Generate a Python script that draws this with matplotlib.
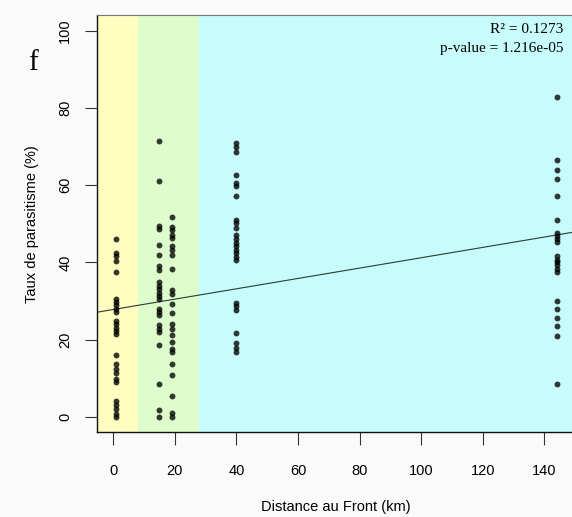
import matplotlib
matplotlib.use('Agg')
import matplotlib.pyplot as plt

# distances (km) of each sampling site, and parasitism rates (%) read per site
site_km = [1, 15, 19, 40, 144]
rates_1 = [46.1, 42.5, 41.6, 40.3, 37.5, 30.4, 29.7, 28.9, 28.0, 27.1, 24.8, 24.0,
           23.1, 22.2, 21.4, 15.9, 13.6, 12.5, 11.3, 9.9, 9.1, 4.1, 3.0, 2.0, 0.7, 0.0]
rates_15 = [71.3, 61.2, 49.5, 48.7, 44.4, 42.0, 39.0, 38.0, 34.9, 34.0, 33.0, 32.1,
            31.3, 30.4, 28.0, 27.1, 26.3, 23.7, 22.8, 22.0, 18.5, 8.4, 1.8, 0.0]
rates_19 = [51.8, 49.2, 48.3, 47.2, 46.2, 44.2, 43.2, 41.8, 38.2, 32.8, 31.7, 29.1,
            27.0, 24.0, 22.8, 21.1, 19.4, 17.5, 16.8, 13.8, 10.8, 5.3, 1.0, 0.0]
rates_40 = [70.9, 70.0, 68.7, 62.7, 60.6, 59.7, 57.3, 51.1, 50.1, 48.9, 47.0, 46.1,
            45.1, 44.2, 43.3, 42.5, 41.4, 40.6, 29.6, 28.7, 27.6, 21.8, 19.2, 17.9, 16.8]
rates_144 = [82.8, 66.4, 63.8, 61.6, 57.3, 51.1, 47.5, 46.8, 46.1, 45.2, 41.6, 40.7,
             40.1, 39.2, 38.3, 37.5, 30.0, 28.0, 25.5, 23.5, 21.0, 8.4]
site_rates = [rates_1, rates_15, rates_19, rates_40, rates_144]

# zone limits (km) for the coloured background bands
zone_edges = [8, 28]
zone_colors = ['#FFFDC0', '#DEFDCC', '#C8FCFC']

# linear fit shown on the plot
fit_intercept = 27.8
fit_slope = 0.134
r2_text = 'R² = 0.1273'
p_text = 'p-value = 1.216e-05'

fig = plt.figure(figsize=(5.72, 5.17), dpi=100, facecolor='#fafafa')
ax = fig.add_axes([0.170, 0.1638, 0.8355, 0.8068])

ax.set_xlim(-5.2, 150)
ax.set_ylim(-4, 104)

ax.axvspan(-50, zone_edges[0], color=zone_colors[0], lw=0, zorder=0)
ax.axvspan(zone_edges[0], zone_edges[1], color=zone_colors[1], lw=0, zorder=0)
ax.axvspan(zone_edges[1], 300, color=zone_colors[2], lw=0, zorder=0)

for km, rates in zip(site_km, site_rates):
    ax.scatter([km] * len(rates), rates, s=18, color='black', alpha=0.78,
               linewidths=0, zorder=3)

ax.axline((0, fit_intercept), slope=fit_slope, color='#2a3a3a', lw=0.8, zorder=2)

ax.text(0.975, 0.965, r2_text, transform=ax.transAxes, ha='right', va='center',
        family='Liberation Serif', fontsize=11)
ax.text(0.975, 0.920, p_text, transform=ax.transAxes, ha='right', va='center',
        family='Liberation Serif', fontsize=11)
fig.text(33 / 572, 1 - 63 / 517, 'f', ha='center', va='center',
         family='Liberation Serif', fontsize=21)

ax.set_xticks([0, 20, 40, 60, 80, 100, 120, 140])
ax.set_yticks([0, 20, 40, 60, 80, 100])
ax.tick_params(axis='x', length=9, width=0.8, color='#333333', pad=14,
               labelsize=10.5)
ax.tick_params(axis='y', length=9, width=0.8, color='#333333', pad=9,
               labelsize=10.5, labelrotation=90)
for lbl in ax.get_yticklabels():
    lbl.set_va('center')
for lbl in ax.get_xticklabels() + ax.get_yticklabels():
    lbl.set_family('Liberation Sans')

ax.set_xlabel('Distance au Front (km)', family='Liberation Sans', fontsize=10.5,
              labelpad=16)
ax.set_ylabel('Taux de parasitisme (%)', family='Liberation Sans', fontsize=10.5,
              labelpad=14)

for side in ['left', 'bottom']:
    ax.spines[side].set_color('#111111')
    ax.spines[side].set_linewidth(1.0)
ax.spines['top'].set_color('#777777')
ax.spines['right'].set_visible(False)

fig.savefig('out.png', dpi=100, facecolor=fig.get_facecolor())
plt.close()
